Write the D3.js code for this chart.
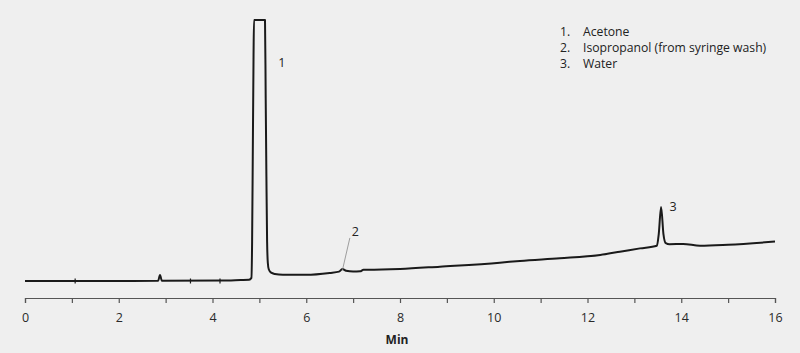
<!DOCTYPE html>
<html><head><meta charset="utf-8">
<script src="https://cdn.jsdelivr.net/npm/d3@7"></script>
<style>
html,body{margin:0;padding:0;background:#efefef;}
svg{display:block;}
text{font-family:"Open Sans",sans-serif;}
</style></head><body>
<svg id="c" width="800" height="353"></svg>
<script>
// Chromatogram trace: [time (min), signal (arbitrary, clipped at 100)]
const traceTime = [0,1.1,2.84,2.88,2.92,4.2,4.6,4.78,4.83,4.845,4.86,4.875,4.885,5.12,5.135,5.15,5.165,5.18,5.2,5.25,5.33,5.5,6.0,6.5,6.7,6.77,6.85,7.0,7.15,7.22,7.3,8.0,8.85,10.13,10.56,11.41,12.27,12.69,13.12,13.48,13.52,13.57,13.62,13.67,13.75,14.04,14.4,15.0,16.0];
const traceSignal = [0,0,0.1,2.3,0.1,0.2,0.4,0.5,1.2,15,50,85,100,100,70,40,15,7,4.5,3.2,2.7,2.4,2.4,3.1,3.6,4.6,3.9,3.6,3.7,4.3,4.3,4.6,5.5,7.0,7.7,8.7,10.0,11.2,12.5,13.5,18,28.4,18,14.5,14.1,14.2,13.5,13.9,15.1];
// integration marks on the baseline
const markerTimes = [1.07,3.53,4.16];
// peak labels
const peakLabels = ["1","2","3"];
const peakLabelTime = [5.4,6.97,13.75];
const peakLabelSignal = [82,17.2,26.8];
const peak2Apex = [6.77,4.6];
// legend
const legendNums = ["1.","2.","3."];
const legendNames = ["Acetone","Isopropanol (from syringe wash)","Water"];
const xTicks = d3.range(0,17,1);
const xLabelTicks = [0,2,4,6,8,10,12,14,16];

const svg = d3.select("#c");
const x = d3.scaleLinear().domain([0,16]).range([25,775]);
const y = d3.scaleLinear().domain([0,100]).range([281,20]);

const data = traceTime.map((t,i)=>[t,traceSignal[i]]);

// axis
const axis = d3.axisBottom(x).tickValues(xTicks).tickSizeOuter(0).tickSize(5).tickPadding(10)
  .tickFormat(d=> xLabelTicks.includes(d) ? d : "");
const ag = svg.append("g").attr("transform","translate(0,298)").call(axis);
ag.select(".domain").attr("stroke","#555").attr("stroke-width",1.2);
ag.selectAll(".tick line").attr("stroke","#555").attr("stroke-width",1.2);
ag.selectAll(".tick text").attr("fill","#2a2a2a").style("font-size","12.5px").style("font-family","'Open Sans',sans-serif");

svg.append("text").attr("x",397).attr("y",344).attr("text-anchor","middle")
  .style("font-size","12px").style("font-weight","bold").attr("fill","#222").text("Min");

// trace
const line = d3.line().x(d=>x(d[0])).y(d=>y(d[1])).curve(d3.curveMonotoneX);
svg.append("path").datum(data).attr("d",line).attr("fill","none")
  .attr("stroke","#1a1a1a").attr("stroke-width",2).attr("stroke-linejoin","round");

// markers
svg.selectAll(".mk").data(markerTimes).enter().append("line")
  .attr("x1",d=>x(d)).attr("x2",d=>x(d))
  .attr("y1",y(0)-2.5).attr("y2",y(0)+2.5)
  .attr("stroke","#1a1a1a").attr("stroke-width",1.2);

// peak labels
svg.selectAll(".pl").data(peakLabels).enter().append("text")
  .attr("x",(d,i)=>x(peakLabelTime[i])).attr("y",(d,i)=>y(peakLabelSignal[i]))
  .style("font-size","12.5px").attr("fill","#222").text(d=>d);
// leader line for peak 2
svg.append("line")
  .attr("x1",x(6.93)).attr("y1",y(16.5))
  .attr("x2",x(peak2Apex[0])).attr("y2",y(peak2Apex[1])+1.5)
  .attr("stroke","#888").attr("stroke-width",0.8);

// legend
const lg = svg.append("g");
lg.selectAll(".ln").data(legendNums).enter().append("text")
  .attr("x",560).attr("y",(d,i)=>35.7+i*16).style("font-size","12.2px").attr("fill","#222").text(d=>d);
lg.selectAll(".lt").data(legendNames).enter().append("text")
  .attr("x",583).attr("y",(d,i)=>35.7+i*16).style("font-size","12.2px").attr("fill","#222").text(d=>d);
</script>
</body></html>
